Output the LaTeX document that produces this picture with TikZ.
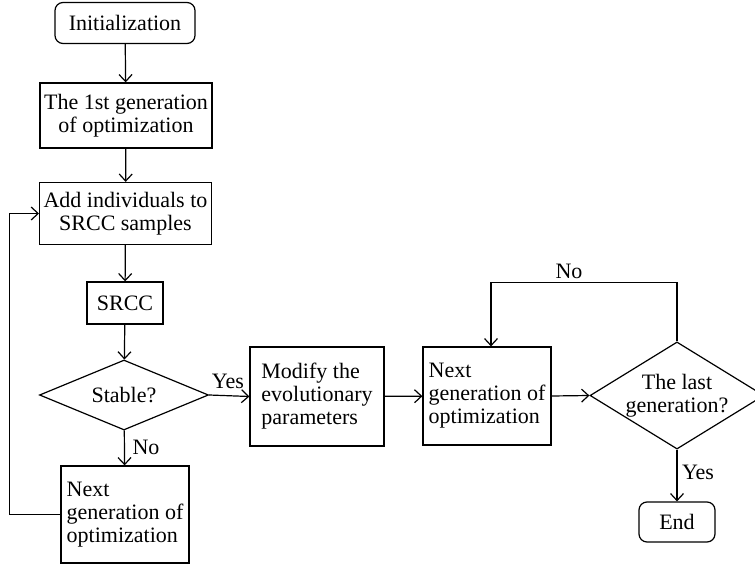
\documentclass[tikz,border=0pt]{standalone}
\usepackage{fontspec}
\setmainfont{Liberation Serif}
\usetikzlibrary{shapes.geometric,arrows.meta}

\begin{document}
\begin{tikzpicture}[x=1pt,y=-1pt,
    font=\fontsize{22}{23}\selectfont,
    line width=1.2pt,
    >={Straight Barb[length=7pt,width=13pt]},
    process/.style={draw, rectangle, inner sep=4pt},
    terminal/.style={draw, rectangle, rounded corners=8pt},
    decision/.style={draw, diamond, inner sep=0pt, shape aspect=1.6}]
    \useasboundingbox (0,0) rectangle (755,564);

    % Left column
    \node[terminal, minimum width=140pt, minimum height=41pt] (init) at (125,23) {Initialization};
    \node[process, minimum width=172pt, minimum height=65pt, align=center] (first) at (126,115.5) {The 1st generation\\of optimization};
    \node[process, minimum width=171pt, minimum height=62pt, align=center] (add) at (125.5,213.5) {Add individuals to\\SRCC samples};
    \node[process, minimum width=76pt, minimum height=42pt] (srcc) at (125,303) {SRCC};
    \node[decision, minimum width=169pt, minimum height=70pt] (stable) at (124,395) {Stable?};
    \node[process, minimum width=128pt, minimum height=97pt, align=left] (nextL) at (125,514.5) {Next\\generation of\\optimization};

    % Right part
    \node[process, minimum width=134pt, minimum height=99pt, align=left] (modify) at (317,396.5) {Modify the\\evolutionary\\parameters};
    \node[process, minimum width=128pt, minimum height=98pt, align=left] (nextR) at (487,396) {Next\\generation of\\optimization};
    \node[decision, minimum width=174pt, minimum height=107pt, align=center] (last) at (677,395.5) {The last\\generation?};
    \node[terminal, minimum width=76pt, minimum height=40pt] (end) at (677,522) {End};

    % Labels
    \node (yesA) at (228,381) {Yes};
    \node (noA) at (146,447) {No};
    \node (noB) at (569,271) {No};
    \node (yesB) at (698,472) {Yes};

    % Arrows
    \draw[->] (init) -- (first);
    \draw[->] (first) -- (add);
    \draw[->] (add) -- (srcc);
    \draw[->] (srcc) -- (stable);
    \draw[->] (stable) -- (nextL);
    \draw[->] (nextL.west) -- ++(-51,0) |- (add.west);
    \draw[->] (stable.east) -- (modify.west);
    \draw[->] (modify) -- (nextR);
    \draw[->] (nextR.east) -- (last.west);
    \draw[->] (last.north) -- ++(0,-59) -| ([xshift=4pt]nextR.north);
    \draw[->] (last.south) -- (end.north);
\end{tikzpicture}
\end{document}
